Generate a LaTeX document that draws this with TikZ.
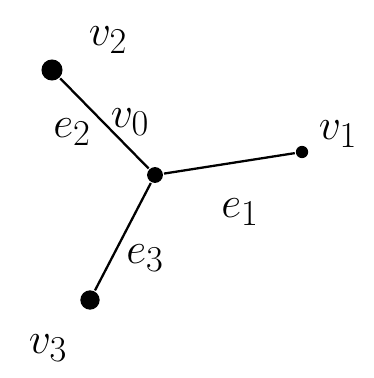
\documentclass[tikz,border=0pt]{standalone}
\begin{document}
\begin{tikzpicture}[x=0.02cm, y=-0.02cm, line width=1.3pt,
  every node/.style={font=\fontsize{30}{32}\selectfont},
  vtx/.style={circle, fill=black, inner sep=0pt, minimum size=9pt}]
  \useasboundingbox (0,0) rectangle (374,378);
  \node[vtx] (v0) at (155,175) {};
  \node[vtx, minimum size=7pt] (v1) at (302,152) {};
  \node[vtx, minimum size=12pt] (v2) at (52,70) {};
  \node[vtx, minimum size=11pt] (v3) at (90,300) {};
  \draw (v0)--(v1) (v0)--(v2) (v0)--(v3);
  \node (lv0) at (130,122) {$v_0$};
  \node (lv1) at (338,134) {$v_1$};
  \node (lv2) at (108,40) {$v_2$};
  \node (lv3) at (48,348) {$v_3$};
  \node (le1) at (240,212) {$e_1$};
  \node (le2) at (72,132) {$e_2$};
  \node (le3) at (145,258) {$e_3$};
\end{tikzpicture}
\end{document}
